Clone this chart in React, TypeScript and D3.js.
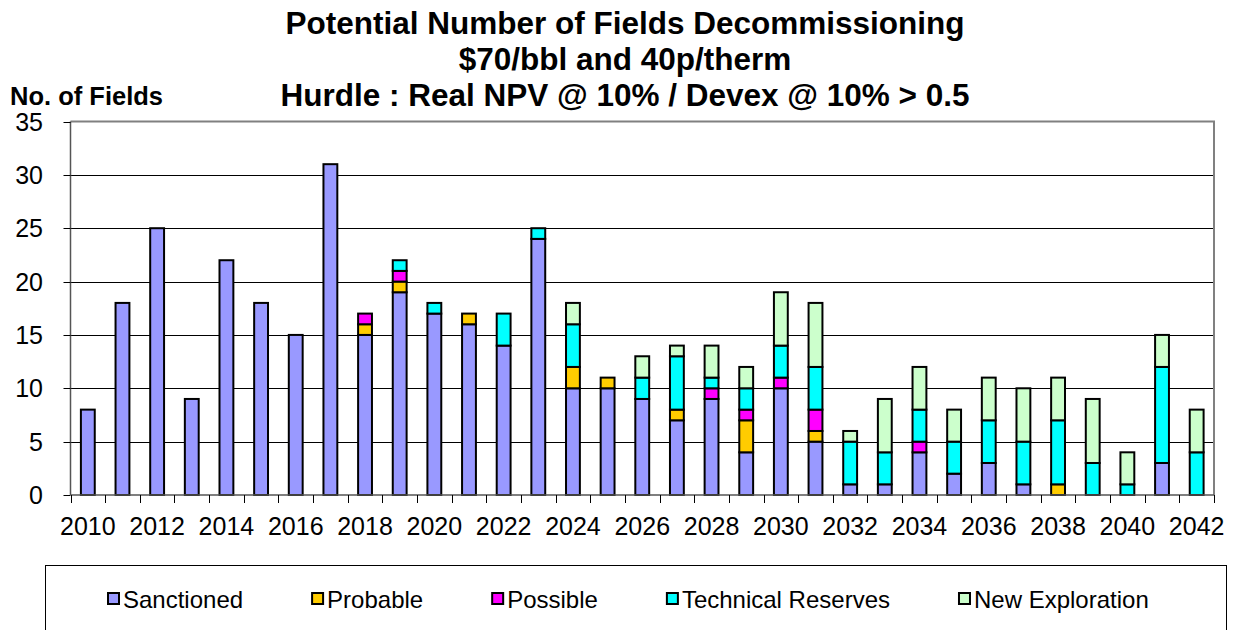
import * as d3 from 'd3';
import { useEffect, useRef } from 'react';

const years = ['2010', '2011', '2012', '2013', '2014', '2015', '2016', '2017', '2018', '2019', '2020',
    '2021', '2022', '2023', '2024', '2025', '2026', '2027', '2028', '2029', '2030', '2031',
    '2032', '2033', '2034', '2035', '2036', '2037', '2038', '2039', '2040', '2041', '2042'];
const xTickLabels = ['2010', '2012', '2014', '2016', '2018', '2020', '2022', '2024', '2026',
    '2028', '2030', '2032', '2034', '2036', '2038', '2040', '2042'];
const yTicks = [0, 5, 10, 15, 20, 25, 30, 35];

const seriesNames = ['Sanctioned', 'Probable', 'Possible', 'Technical Reserves', 'New Exploration'];
const seriesColors = ['#9999ff', '#ffcc00', '#ff00ff', '#00ffff', '#ccffcc'];

const sanctioned = [8, 18, 25, 9, 22, 18, 15, 31, 15, 19, 17, 16, 14, 24, 10, 10, 9, 7, 9, 4, 10, 5, 1, 1, 4, 2, 3, 1, 0, 0, 0, 3, 0];
const probable = [0, 0, 0, 0, 0, 0, 0, 0, 1, 1, 0, 1, 0, 0, 2, 1, 0, 1, 0, 3, 0, 1, 0, 0, 0, 0, 0, 0, 1, 0, 0, 0, 0];
const possible = [0, 0, 0, 0, 0, 0, 0, 0, 1, 1, 0, 0, 0, 0, 0, 0, 0, 0, 1, 1, 1, 2, 0, 0, 1, 0, 0, 0, 0, 0, 0, 0, 0];
const technical = [0, 0, 0, 0, 0, 0, 0, 0, 0, 1, 1, 0, 3, 1, 4, 0, 2, 5, 1, 2, 3, 4, 4, 3, 3, 3, 4, 4, 6, 3, 1, 9, 4];
const newExploration = [0, 0, 0, 0, 0, 0, 0, 0, 0, 0, 0, 0, 0, 0, 2, 0, 2, 1, 3, 2, 5, 6, 1, 5, 4, 3, 4, 5, 4, 6, 3, 3, 4];

const titleLines = ['Potential Number of Fields Decommissioning', '$70/bbl and 40p/therm', 'Hurdle : Real NPV @ 10% / Devex @ 10% > 0.5'];

const FONT = '"Liberation Sans", Arial, sans-serif';

const App = () => {
    const ref = useRef<SVGSVGElement>(null);

    useEffect(() => {
        const svg = d3.select(ref.current);
        svg.selectAll('*').remove();

        const left = 70.5, right = 1214, top = 121.5, bottom = 495;

        const x: any = d3.scaleBand().domain(years).range([left, right]).padding(0);
        const y: any = d3.scaleLinear().domain([0, 35]).range([bottom, top]);

        // table for stacking
        const table = years.map((yr, i) => ({
            year: yr,
            'Sanctioned': sanctioned[i],
            'Probable': probable[i],
            'Possible': possible[i],
            'Technical Reserves': technical[i],
            'New Exploration': newExploration[i],
        }));
        const stacked = d3.stack().keys(seriesNames)(table as any);

        // gridlines
        svg.append('g')
            .selectAll('line')
            .data(yTicks.filter(t => t > 0 && t < 35))
            .enter().append('line')
            .attr('x1', left).attr('x2', right)
            .attr('y1', (d: any) => Math.round(y(d)) + 0.5)
            .attr('y2', (d: any) => Math.round(y(d)) + 0.5)
            .attr('stroke', '#000')
            .attr('stroke-width', 1);

        // plot border (top, right)
        svg.append('path')
            .attr('d', `M${left},${top}H${right}V${bottom}`)
            .attr('fill', 'none')
            .attr('stroke', '#808080')
            .attr('stroke-width', 2);

        // bars
        const bw = x.bandwidth() * 0.4;
        stacked.forEach((layer: any, si: number) => {
            svg.append('g')
                .selectAll('rect')
                .data(layer.filter((d: any) => d[1] - d[0] > 0))
                .enter().append('rect')
                .attr('x', (d: any) => x(d.data.year) + (x.bandwidth() - bw) / 2)
                .attr('width', bw)
                .attr('y', (d: any) => y(d[1]))
                .attr('height', (d: any) => y(d[0]) - y(d[1]))
                .attr('fill', seriesColors[si])
                .attr('stroke', '#000')
                .attr('stroke-width', 2);
        });

        // y axis
        const yAxis = svg.append('g');
        yAxis.append('line')
            .attr('x1', left).attr('x2', left).attr('y1', top).attr('y2', bottom)
            .attr('stroke', '#555').attr('stroke-width', 1.5);
        yAxis.selectAll('.tick')
            .data(yTicks)
            .enter().append('line')
            .attr('x1', left - 7).attr('x2', left)
            .attr('y1', (d: any) => Math.round(y(d)) + 0.5)
            .attr('y2', (d: any) => Math.round(y(d)) + 0.5)
            .attr('stroke', '#000');
        yAxis.selectAll('text')
            .data(yTicks)
            .enter().append('text')
            .attr('x', 43)
            .attr('y', (d: any) => y(d))
            .attr('dy', '0.36em')
            .attr('text-anchor', 'end')
            .style('font-family', FONT)
            .style('font-size', '25px')
            .text((d: any) => d);

        // x axis
        const xAxis = svg.append('g');
        xAxis.append('line')
            .attr('x1', left).attr('x2', right).attr('y1', bottom).attr('y2', bottom)
            .attr('stroke', '#555').attr('stroke-width', 1.5);
        xAxis.selectAll('.tick')
            .data(years.concat(['end']))
            .enter().append('line')
            .attr('x1', (d: any, i: number) => Math.round(left + i * x.step()) + 0.5)
            .attr('x2', (d: any, i: number) => Math.round(left + i * x.step()) + 0.5)
            .attr('y1', bottom).attr('y2', bottom + 8)
            .attr('stroke', '#000');
        xAxis.selectAll('text')
            .data(xTickLabels)
            .enter().append('text')
            .attr('x', (d: any) => x(d) + x.bandwidth() / 2)
            .attr('y', 535)
            .attr('text-anchor', 'middle')
            .style('font-family', FONT)
            .style('font-size', '25px')
            .text((d: any) => d);

        // titles
        svg.selectAll('.title')
            .data(titleLines)
            .enter().append('text')
            .attr('x', 625)
            .attr('y', (d: any, i: number) => 34 + i * 36)
            .attr('text-anchor', 'middle')
            .style('font-family', FONT)
            .style('font-weight', 'bold')
            .style('font-size', '31.5px')
            .text((d: any) => d);
        svg.append('text')
            .attr('x', 10)
            .attr('y', 105)
            .style('font-family', FONT)
            .style('font-weight', 'bold')
            .style('font-size', '25.5px')
            .text('No. of Fields');

        // legend
        svg.append('rect')
            .attr('x', 45.5).attr('y', 565.5)
            .attr('width', 1181).attr('height', 100)
            .attr('fill', '#fff')
            .attr('stroke', '#000')
            .attr('stroke-width', 1);
        const lg = svg.append('g');
        const items = seriesNames.map((name, i) => {
            const g = lg.append('g');
            g.append('rect')
                .attr('x', 0).attr('y', -6).attr('width', 11).attr('height', 11)
                .attr('fill', seriesColors[i]).attr('stroke', '#000').attr('stroke-width', 2);
            const t = g.append('text')
                .attr('x', 15).attr('y', 0).attr('dy', '0.36em')
                .style('font-family', FONT)
                .style('font-size', '24px')
                .text(name);
            const w = 15 + (t.node() as any).getComputedTextLength();
            return { g, w };
        });
        const gap = 69;
        let cx = 108;
        items.forEach(it => {
            it.g.attr('transform', `translate(${cx},599)`);
            cx += it.w + gap;
        });
    }, []);

    return (
        <svg ref={ref} width={1243} height={630}
            style={{ position: 'absolute', left: 0, top: 0, background: '#fff' }} />
    );
};

export default App;
